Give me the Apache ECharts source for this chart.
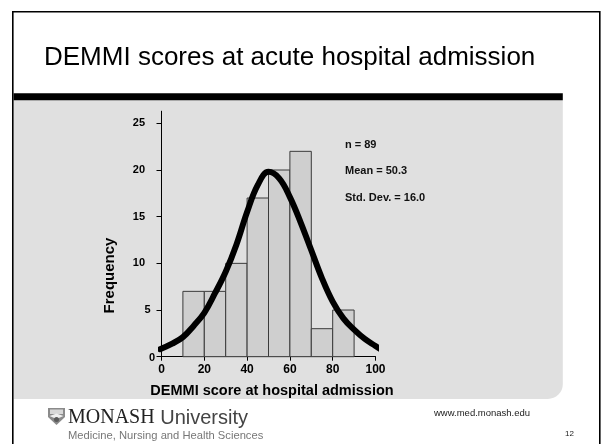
<!DOCTYPE html>
<html>
<head>
<meta charset="utf-8">
<script src="https://cdn.jsdelivr.net/npm/echarts@6/dist/echarts.min.js"></script>
<style>
html,body{margin:0;padding:0;background:#fff;}
#main{width:602px;height:444px;}
</style>
</head>
<body>
<div id="main"></div>
<script>
// Histogram bins: [start, end]
var binStarts = [10, 20, 30, 40, 50, 60, 70, 80];
var binEnds   = [20, 30, 40, 50, 60, 70, 80, 90];
var binCounts = [7, 7, 10, 17, 20, 22, 3, 5];

// Fitted normal curve
var curveX = [-0.7, 5, 10, 15, 20, 25, 30, 35, 40, 45, 50, 55, 60, 65, 70, 75, 80, 85, 90, 95, 100, 105];
var curveY = [0.8, 1.4, 2.1, 3.3, 4.7, 6.8, 9.1, 12.0, 15.5, 18.4, 19.8, 19.1, 17.1, 14.4, 11.4, 8.4, 5.9, 4.1, 2.9, 1.9, 1.15, 0.4];

var xTicks = [0, 20, 40, 60, 80, 100];
var yTicks = [0, 5, 10, 15, 20, 25];

var statsText = ['n = 89', 'Mean = 50.3', 'Std. Dev. = 16.0'];

var titleText = 'DEMMI scores at acute hospital admission';
var xName = 'DEMMI score at hospital admission';
var yName = 'Frequency';

var histData = binStarts.map(function (s, i) { return [s, binEnds[i], binCounts[i]]; });
var curveData = curveX.map(function (x, i) { return [x, curveY[i]]; });

var chart = echarts.init(document.getElementById('main'), null, {renderer: 'canvas'});
var FONT = '"Liberation Sans", Arial, Helvetica, sans-serif';
var labelRich = {
  a: {fontFamily: FONT, fontWeight: 'bold', fontSize: 11, color: '#000', padding: [2, 0, 0, 0]},
  b: {fontFamily: FONT, fontWeight: 'bold', fontSize: 11, color: '#000', padding: [0, 4.5, 0, 0]},
  c: {fontFamily: FONT, fontWeight: 'bold', fontSize: 11, color: '#000', padding: [0, 10, 0, 0]}
};

var option = {
  animation: false,
  backgroundColor: '#ffffff',
  graphic: [
    // slide frame
    {type: 'polyline', z: 0, shape: {points: [[12.8, 450], [12.8, 11.8], [599.8, 11.8], [599.8, 450]]},
     style: {stroke: '#000', lineWidth: 1.6, fill: null}, silent: true},
    // title
    {type: 'text', left: 44, top: 45, z: 1,
     style: {text: titleText, font: '26px ' + FONT, fill: '#000'}},
    // thick black bar
    {type: 'rect', z: 0, shape: {x: 13.6, y: 93.3, width: 549.2, height: 6.9}, style: {fill: '#000'}},
    // gray panel
    {type: 'rect', z: -10, shape: {x: 13.6, y: 100, width: 549.2, height: 299, r: [0, 0, 15, 0]},
     style: {fill: '#e0e0e0'}},
    // y axis name
    {type: 'text', x: 110, y: 275.5, rotation: Math.PI / 2, z: 5,
     style: {text: yName, font: 'bold 15px ' + FONT, fill: '#000', align: 'center', verticalAlign: 'middle'}},
    // stats annotation
    {type: 'text', left: 345, top: 139, z: 5, style: {text: statsText[0], font: 'bold 11px ' + FONT, fill: '#111'}},
    {type: 'text', left: 345, top: 165, z: 5, style: {text: statsText[1], font: 'bold 11px ' + FONT, fill: '#111'}},
    {type: 'text', left: 345, top: 192, z: 5, style: {text: statsText[2], font: 'bold 11px ' + FONT, fill: '#111'}},
    // logo crest
    {type: 'group', left: 48, top: 408, z: 5, children: [
      {type: 'polygon', shape: {points: [[0,0],[17,0],[17,9],[8.5,17],[0,9]]}, style: {fill: '#8a8a8a'}},
      {type: 'rect', shape: {x: 2, y: 1.5, width: 13, height: 4.5}, style: {fill: '#d8d8d8'}},
      {type: 'polygon', shape: {points: [[1.5,8],[8.5,5.5],[15.5,8],[8.5,11]]}, style: {fill: '#f0f0f0'}},
      {type: 'circle', shape: {cx: 8.5, cy: 11.5, r: 2.5}, style: {fill: '#5a5a5a'}}
    ]},
    {type: 'text', left: 68, top: 408, z: 5,
     style: {
       text: '{a|MONASH}{b| University}',
       rich: {
         a: {font: '20px "Liberation Serif", "Times New Roman", serif', fill: '#222'},
         b: {font: '20px ' + FONT, fill: '#444'}
       }
     }},
    {type: 'text', left: 68, top: 430, z: 5,
     style: {text: 'Medicine, Nursing and Health Sciences', font: '11.2px ' + FONT, fill: '#777'}},
    {type: 'text', left: 434, top: 408, z: 5,
     style: {text: 'www.med.monash.edu', font: '9.5px ' + FONT, fill: '#222'}},
    {type: 'text', left: 565, top: 430, z: 5,
     style: {text: '12', font: '8px ' + FONT, fill: '#222'}}
  ],
  grid: {left: 161.5, top: 111.2, right: 226.5, bottom: 87.3, containLabel: false},
  xAxis: {
    type: 'value', min: 0, max: 100, interval: 20,
    name: xName, nameLocation: 'middle', nameGap: 27,
    nameTextStyle: {fontFamily: FONT, fontWeight: 'bold', fontSize: 14.5, color: '#000', padding: [0, 0, 0, 7]},
    axisLine: {show: true, onZero: false, lineStyle: {color: '#000', width: 1}},
    axisTick: {show: true, length: 4, lineStyle: {color: '#000'}},
    axisLabel: {margin: 7, fontFamily: FONT, fontWeight: 'bold', fontSize: 12, color: '#000',
                customValues: xTicks},
    splitLine: {show: false}
  },
  yAxis: {
    type: 'value', min: 0, max: 26.3, interval: 5,
    axisLine: {show: true, onZero: false, lineStyle: {color: '#000', width: 1}},
    axisTick: {show: true, length: 5, lineStyle: {color: '#000'}, customValues: yTicks},
    axisLabel: {margin: 6.5, customValues: yTicks, rich: labelRich,
                formatter: function (v) {
                  if (v === 0) return '{a|0}';
                  if (v === 5) return '{b|5}';
                  return '{c|' + v + '}';
                }},
    splitLine: {show: false}
  },
  series: [
    {
      type: 'custom',
      z: 2,
      data: histData,
      renderItem: function (params, api) {
        var p0 = api.coord([api.value(0), api.value(2)]);
        var p1 = api.coord([api.value(1), 0]);
        return {
          type: 'rect',
          shape: {x: p0[0], y: p0[1], width: p1[0] - p0[0], height: p1[1] - p0[1]},
          style: {fill: '#cfcfcf', stroke: '#3a3a3a', lineWidth: 1}
        };
      },
      encode: {x: [0, 1], y: 2}
    },
    {
      type: 'line',
      z: 3,
      data: curveData,
      smooth: 0.4,
      clip: false,
      showSymbol: false,
      symbol: 'none',
      lineStyle: {color: '#000', width: 6, cap: 'round'}
    }
  ]
};
chart.setOption(option);
</script>
</body>
</html>
